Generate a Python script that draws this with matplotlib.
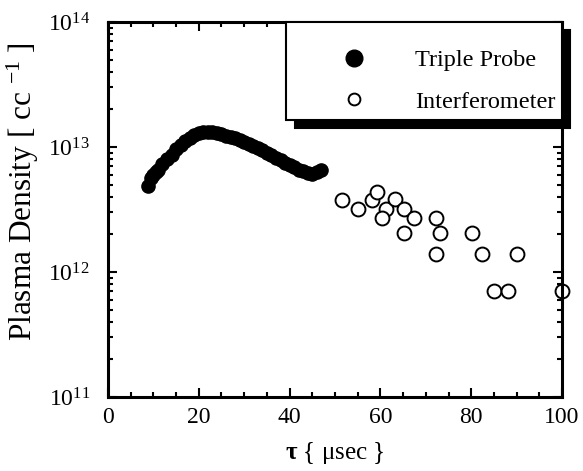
import numpy as np
import matplotlib.pyplot as plt

plt.rcParams["font.family"] = ["Liberation Serif", "DejaVu Serif"]
plt.rcParams["mathtext.fontset"] = "custom"
plt.rcParams["mathtext.rm"] = "Liberation Serif"
plt.rcParams["mathtext.it"] = "Liberation Serif:italic"
plt.rcParams["mathtext.bf"] = "Liberation Serif:bold"

# triple probe (dense filled circles)
probe_t = [8.8, 9.5, 10, 10.5, 11, 12, 13, 14, 15, 16, 17, 18, 19, 20, 21, 22,
           23, 24, 25, 26, 27, 28, 29, 30, 31, 32, 33, 34, 35, 36, 37, 38, 39,
           40, 41, 42, 43, 44, 45, 46, 47]
probe_n = [4.9e12, 5.6e12, 6.0e12, 6.3e12, 6.6e12, 7.3e12, 8.0e12, 8.7e12,
           9.6e12, 1.04e13, 1.12e13, 1.19e13, 1.25e13, 1.30e13, 1.33e13,
           1.33e13, 1.31e13, 1.29e13, 1.26e13, 1.23e13, 1.20e13, 1.17e13,
           1.13e13, 1.10e13, 1.06e13, 1.02e13, 9.8e12, 9.4e12, 9.0e12, 8.6e12,
           8.2e12, 7.8e12, 7.5e12, 7.2e12, 6.9e12, 6.6e12, 6.4e12, 6.2e12,
           6.1e12, 6.3e12, 6.5e12]

# interferometer (open circles)
interf_t = [51.5, 55.1, 58.1, 59.3, 61.2, 60.3, 63.2, 65.2, 67.3, 65.2, 72.2,
            73.1, 72.2, 80.2, 82.3, 90.0, 85.0, 88.2, 99.9]
interf_n = [3.8e12, 3.2e12, 3.8e12, 4.35e12, 3.2e12, 2.7e12, 3.85e12, 3.2e12,
            2.7e12, 2.05e12, 2.7e12, 2.05e12, 1.4e12, 2.05e12, 1.4e12, 1.4e12,
            7.1e11, 7.1e11, 7.1e11]

fig = plt.figure(figsize=(5.83, 4.71), dpi=100)
ax = fig.add_axes([0.1852, 0.1571, 0.7788, 0.7962])

ax.plot(probe_t, probe_n, "o", color="black", ms=9.5, label="Triple Probe")
ax.plot(interf_t, interf_n, "o", mfc="white", mec="black", mew=1.4, ms=10,
        label="Interferometer", clip_on=False)

ax.set_yscale("log")
ax.set_xlim(0, 100)
ax.set_ylim(1e11, 1e14)
ax.set_xticks([0, 20, 40, 60, 80, 100])
ax.set_xticks(np.arange(0, 101, 5), minor=True)

for s in ax.spines.values():
    s.set_linewidth(2.2)
ax.tick_params(which="both", direction="in", top=True, right=True,
               labelsize=17, width=1.5)
ax.tick_params(which="major", length=6.5)
ax.tick_params(which="minor", length=3.5)
ax.tick_params(axis="x", pad=7)
ax.tick_params(axis="y", pad=13)

ax.set_xlabel(r"$\mathbf{\tau}$ { μsec }", fontsize=18, labelpad=9)
ax.set_ylabel(r"Plasma Density [ cc $^{-1}$ ]", fontsize=22.5)
ax.yaxis.set_label_coords(-0.148, 0.547)

# legend: tiny blank title gives the extra space above the first row
leg = ax.legend(loc="upper right", bbox_to_anchor=(1.0, 1.0), borderaxespad=0,
                fontsize=17.5, frameon=True, fancybox=False, handlelength=5.0,
                handletextpad=0.0, borderpad=0.28, labelspacing=0.8,
                title=" ", title_fontsize=1,
                shadow={"color": "black", "alpha": 1, "ox": 6, "oy": -6})
leg.get_frame().set_edgecolor("black")
leg.get_frame().set_linewidth(1.5)
leg.get_frame().set_alpha(1)
leg.legend_handles[0].set_markersize(12)
leg.legend_handles[1].set_markersize(8.5)

fig.savefig("out.png", dpi=100)
